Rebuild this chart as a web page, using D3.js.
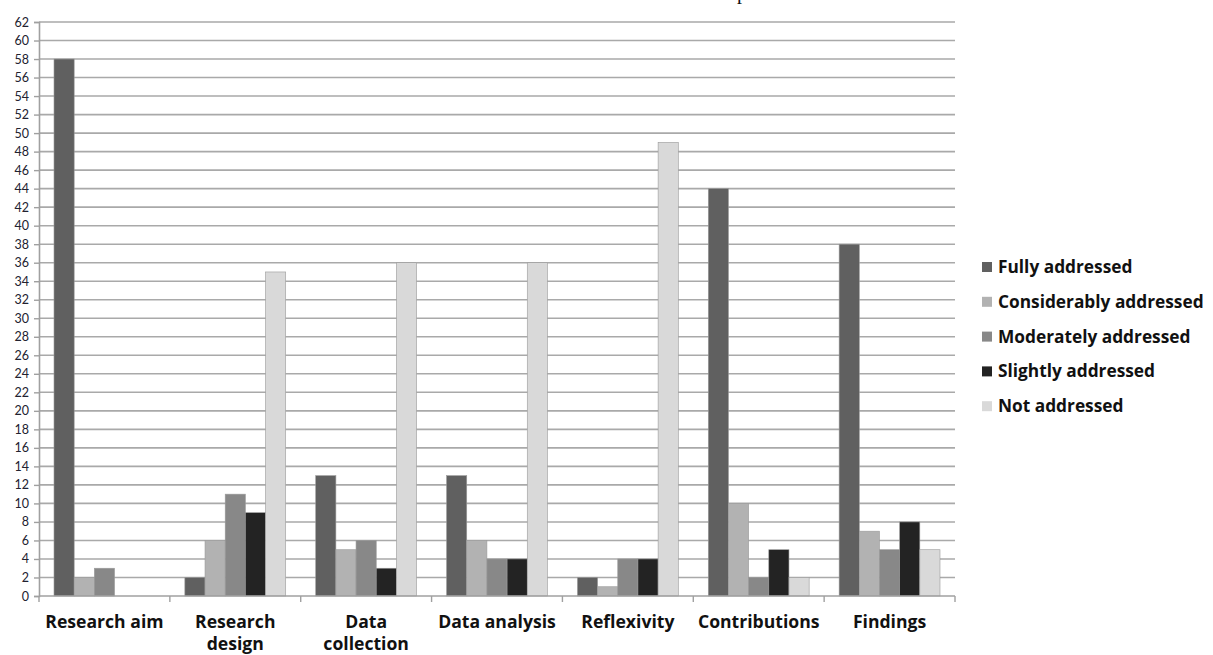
<!DOCTYPE html>
<html><head><meta charset="utf-8">
<script src="https://cdn.jsdelivr.net/npm/d3@7"></script>
<style>
html,body{margin:0;padding:0;background:#fff;}
svg{display:block;}
</style></head>
<body>
<svg id="chart" width="1213" height="655"></svg>
<script>
const categories = ["Research aim", "Research design", "Data collection", "Data analysis", "Reflexivity", "Contributions", "Findings"];
const categoryLines = [["Research aim"], ["Research", "design"], ["Data", "collection"], ["Data analysis"], ["Reflexivity"], ["Contributions"], ["Findings"]];
const seriesNames = ["Fully addressed", "Considerably addressed", "Moderately addressed", "Slightly addressed", "Not addressed"];
const fully        = [58, 2, 13, 13, 2, 44, 38];
const considerably = [2, 6, 5, 6, 1, 10, 7];
const moderately   = [3, 11, 6, 4, 4, 2, 5];
const slightly     = [0, 9, 3, 4, 4, 5, 8];
const notAddressed = [0, 35, 36, 36, 49, 2, 5];
const yTicks = d3.range(0, 63, 2);
const colors = ["#606060", "#b2b2b2", "#888888", "#232323", "#d9d9d9"];

(function () {
const series = [fully, considerably, moderately, slightly, notAddressed];
const svg = d3.select("#chart");
const mLeft = 39, mRight = 955, mTop = 22, mBottom = 596;
const labelFont = "'Open Sans', Lato, sans-serif";

const x0 = d3.scaleBand().domain(categories).range([mLeft, mRight]).paddingInner(0).paddingOuter(0);
const x1 = d3.scaleBand().domain(seriesNames).range([15, x0.bandwidth() - 15]).paddingInner(0).paddingOuter(0);
const y = d3.scaleLinear().domain([0, 62]).range([mBottom, mTop]);

// gridlines
svg.append("g").selectAll("line").data(yTicks.filter(d => d > 0)).join("line")
  .attr("x1", mLeft).attr("x2", mRight)
  .attr("y1", d => y(d)).attr("y2", d => y(d))
  .attr("stroke", "#a9a9a9").attr("stroke-width", 1.6);

// y axis
const yAxis = svg.append("g").attr("transform", `translate(${mLeft},0)`)
  .call(d3.axisLeft(y).tickValues(yTicks).tickSize(5).tickPadding(5));
yAxis.select(".domain").attr("stroke", "#a0a0a0").attr("stroke-width", 1.6);
yAxis.selectAll(".tick line").attr("stroke", "#a0a0a0").attr("stroke-width", 1.4);
yAxis.selectAll(".tick text").attr("fill", "#222230")
  .style("font-family", "Lato, 'Open Sans', sans-serif").style("font-size", "12.5px");

// bars
const groups = svg.append("g").selectAll("g").data(categories).join("g")
  .attr("transform", d => `translate(${x0(d)},0)`);
groups.selectAll("rect").data((c, i) => series.map((s, j) => ({name: seriesNames[j], v: s[i], j})))
  .join("rect")
  .attr("x", d => x1(d.name))
  .attr("width", x1.bandwidth())
  .attr("y", d => y(d.v))
  .attr("height", d => mBottom - y(d.v))
  .attr("fill", d => colors[d.j])
  .attr("stroke", d => d.v > 0 ? "#9a9a9a" : "none")
  .attr("stroke-width", 0.6);

// x axis baseline and ticks
svg.append("line").attr("x1", mLeft).attr("x2", mRight).attr("y1", mBottom).attr("y2", mBottom)
  .attr("stroke", "#a0a0a0").attr("stroke-width", 1.6);
const bounds = categories.map(c => x0(c)).concat([mRight]);
svg.append("g").selectAll("line").data(bounds).join("line")
  .attr("x1", d => d).attr("x2", d => d).attr("y1", mBottom).attr("y2", mBottom + 6)
  .attr("stroke", "#a0a0a0").attr("stroke-width", 1.4);

// x labels
const xl = svg.append("g").selectAll("text").data(categories).join("text")
  .attr("x", d => x0(d) + x0.bandwidth() / 2)
  .attr("y", 628)
  .attr("text-anchor", "middle")
  .attr("fill", "#111")
  .style("font-family", labelFont)
  .style("font-weight", "bold").style("font-size", "17.6px");
xl.each(function(d, i) {
  const t = d3.select(this);
  categoryLines[i].forEach((line, k) => {
    t.append("tspan").attr("x", x0(d) + x0.bandwidth() / 2).attr("dy", k === 0 ? 0 : 22).text(line);
  });
});

// legend
const lg = svg.append("g").selectAll("g").data(seriesNames).join("g")
  .attr("transform", (d, i) => `translate(982,${267 + i * 34.8})`);
lg.append("rect").attr("x", 0).attr("y", -5).attr("width", 10).attr("height", 10)
  .attr("fill", (d, i) => colors[i]);
lg.append("text").attr("x", 16).attr("y", 6).text(d => d)
  .attr("fill", "#111")
  .style("font-family", labelFont)
  .style("font-weight", "bold").style("font-size", "17.3px");

// cut-off title glyph at top
svg.append("text").attr("x", 742).attr("y", -1.5).attr("text-anchor", "middle")
  .style("font-family", "'Liberation Serif', serif").style("font-size", "20px").attr("fill", "#111").text("p");
})();
</script>
</body></html>
